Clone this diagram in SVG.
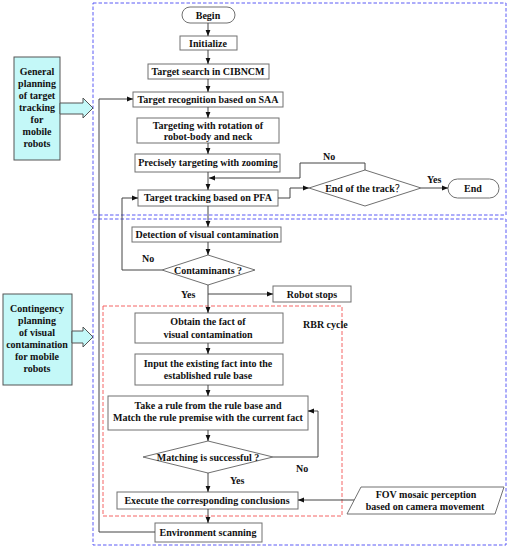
<svg xmlns="http://www.w3.org/2000/svg" width="512" height="550" viewBox="0 0 512 550">
<defs>
<marker id="ah" viewBox="0 0 10 10" refX="10" refY="5" markerWidth="6" markerHeight="6" markerUnits="userSpaceOnUse" orient="auto">
<path d="M0,1 L10,5 L0,9 z" fill="#111"/>
</marker>
</defs>
<style>
text{font-family:"Liberation Serif","Times New Roman",serif;font-weight:bold;font-size:10px;fill:#111;text-anchor:middle}
.cjk{font-family:"Noto Sans CJK SC",sans-serif;font-weight:normal}
.box{fill:#fff;stroke:#707070;stroke-width:1}
.side{fill:#c4f8f8;stroke:#555;stroke-width:1}
.blue{fill:none;stroke:#5a5af5;stroke-width:1;stroke-dasharray:3.5,2}
.red{fill:none;stroke:#f46464;stroke-width:1;stroke-dasharray:4,2}
.ln{fill:none;stroke:#444;stroke-width:1}
.ar{fill:none;stroke:#444;stroke-width:1;marker-end:url(#ah)}
.lbl{text-anchor:start}
</style>
<rect class="blue" x="93" y="3" width="413" height="212"/>
<rect class="blue" x="93" y="219" width="413" height="326"/>
<rect class="red" x="103" y="306" width="239" height="210"/>
<text class="lbl" x="303" y="328">RBR cycle</text>

<g id="general">
<rect class="side" x="14" y="57" width="46" height="103"/>
<text x="37" y="75">General</text>
<text x="37" y="87">planning</text>
<text x="37" y="99">of  target</text>
<text x="37" y="111">tracking</text>
<text x="37" y="123">for</text>
<text x="37" y="135">mobile</text>
<text x="37" y="147">robots</text>
<path class="side" d="M60,103 H83 V98 L93,108 L83,118 V114 H60 z"/>
</g>
<g id="contingency">
<rect class="side" x="3" y="294" width="69" height="91"/>
<text x="37" y="312">Contingency</text>
<text x="37" y="324">planning</text>
<text x="37" y="336">of visual</text>
<text x="37" y="348">contamination</text>
<text x="37" y="360">for mobile</text>
<text x="37" y="372">robots</text>
<path class="side" d="M72,331 H83 V327 L93,337 L83,347 V343 H72 z"/>
</g>

<g id="begin"><rect class="box" x="182" y="7" width="53" height="16" rx="8"/><text x="208" y="19">Begin</text></g>
<g id="init"><rect class="box" x="180" y="36" width="57" height="14"/><text x="208" y="47">Initialize</text></g>
<g id="search"><rect class="box" x="148" y="64" width="121" height="15"/><text x="208" y="75">Target search in CIBNCM</text></g>
<g id="recog"><rect class="box" x="133" y="92" width="150" height="15"/><text x="208" y="103">Target recognition based on SAA</text></g>
<g id="rotation"><rect class="box" x="137" y="118" width="142" height="25"/><text x="208" y="129">Targeting with rotation of</text><text x="208" y="140">robot-body and neck</text></g>
<g id="zoom"><rect class="box" x="135" y="154" width="145" height="18"/><text x="208" y="166">Precisely targeting with zooming</text></g>
<g id="tracking"><rect class="box" x="138" y="190" width="140" height="16"/><text x="208" y="201">Target tracking based on PFA</text></g>
<g id="endtrack"><path class="box" d="M309,188 L365,170 L421,188 L365,206 z"/><text x="365" y="192">End of the track<tspan class="cjk">？</tspan></text></g>
<g id="end"><rect class="box" x="448" y="179" width="51" height="19" rx="9.5"/><text x="473" y="192">End</text></g>
<g id="detect"><rect class="box" x="132" y="227" width="149" height="15"/><text x="207" y="238">Detection of visual contamination</text></g>
<g id="contam"><path class="box" d="M162,270 L208,255 L255,270 L208,285 z"/><text x="208" y="274">Contaminants ?</text></g>
<g id="stops"><rect class="box" x="273" y="286" width="78" height="16"/><text x="312" y="298">Robot stops</text></g>
<g id="obtain"><rect class="box" x="135" y="313" width="148" height="30"/><text x="208" y="325">Obtain the fact of</text><text x="208" y="338">visual contamination</text></g>
<g id="input"><rect class="box" x="135" y="354" width="148" height="31"/><text x="208" y="367">Input the existing fact into the</text><text x="208" y="379">established rule base</text></g>
<g id="take"><rect class="box" x="108" y="396" width="200" height="34"/><text x="208" y="409">Take a rule from the rule base and</text><text x="208" y="421">Match the rule premise with the current fact</text></g>
<g id="match"><path class="box" d="M143,457 L208,441 L273,457 L208,473 z"/><text x="208" y="461">Matching is successful ?</text></g>
<g id="execute"><rect class="box" x="117" y="492" width="181" height="17"/><text x="207" y="504">Execute the corresponding conclusions</text></g>
<g id="fov"><path class="box" d="M361,487 H504 L495,514 H347 z"/><text x="426" y="498">FOV mosaic perception</text><text x="425" y="510">based on camera movement</text></g>
<g id="env"><rect class="box" x="155" y="523" width="107" height="19"/><text x="208" y="536">Environment scanning</text></g>

<g id="connectors">
<line class="ar" x1="208" y1="23" x2="208" y2="36"/>
<line class="ar" x1="208" y1="50" x2="208" y2="64"/>
<line class="ar" x1="208" y1="79" x2="208" y2="92"/>
<line class="ar" x1="208" y1="107" x2="208" y2="118"/>
<line class="ar" x1="208" y1="143" x2="208" y2="154"/>
<line class="ar" x1="208" y1="172" x2="208" y2="190"/>
<polyline class="ar" points="365,170 365,163 300,163 300,178 209,178"/>
<polyline class="ar" points="278,198 290,198 290,188 309,188"/>
<line class="ar" x1="421" y1="188" x2="448" y2="188"/>
<line class="ar" x1="208" y1="206" x2="208" y2="227"/>
<line class="ar" x1="208" y1="242" x2="208" y2="255"/>
<polyline class="ar" points="162,270 122,270 122,198 138,198"/>
<line class="ar" x1="208" y1="285" x2="208" y2="313"/>
<polyline class="ar" points="208,294 273,294"/>
<line class="ar" x1="208" y1="343" x2="208" y2="354"/>
<line class="ar" x1="208" y1="385" x2="208" y2="396"/>
<line class="ar" x1="208" y1="430" x2="208" y2="441"/>
<polyline class="ar" points="273,457 318,457 318,411 308,411"/>
<line class="ar" x1="208" y1="473" x2="208" y2="492"/>
<line class="ar" x1="354" y1="500" x2="298" y2="500"/>
<line class="ar" x1="208" y1="509" x2="208" y2="523"/>
<polyline class="ar" points="155,532 99,532 99,99 133,99"/>
<text class="lbl" x="323" y="160">No</text>
<text class="lbl" x="427" y="183">Yes</text>
<text class="lbl" x="142" y="262">No</text>
<text class="lbl" x="181" y="298">Yes</text>
<text class="lbl" x="296" y="472">No</text>
<text class="lbl" x="230" y="484">Yes</text>
</g>
</svg>
